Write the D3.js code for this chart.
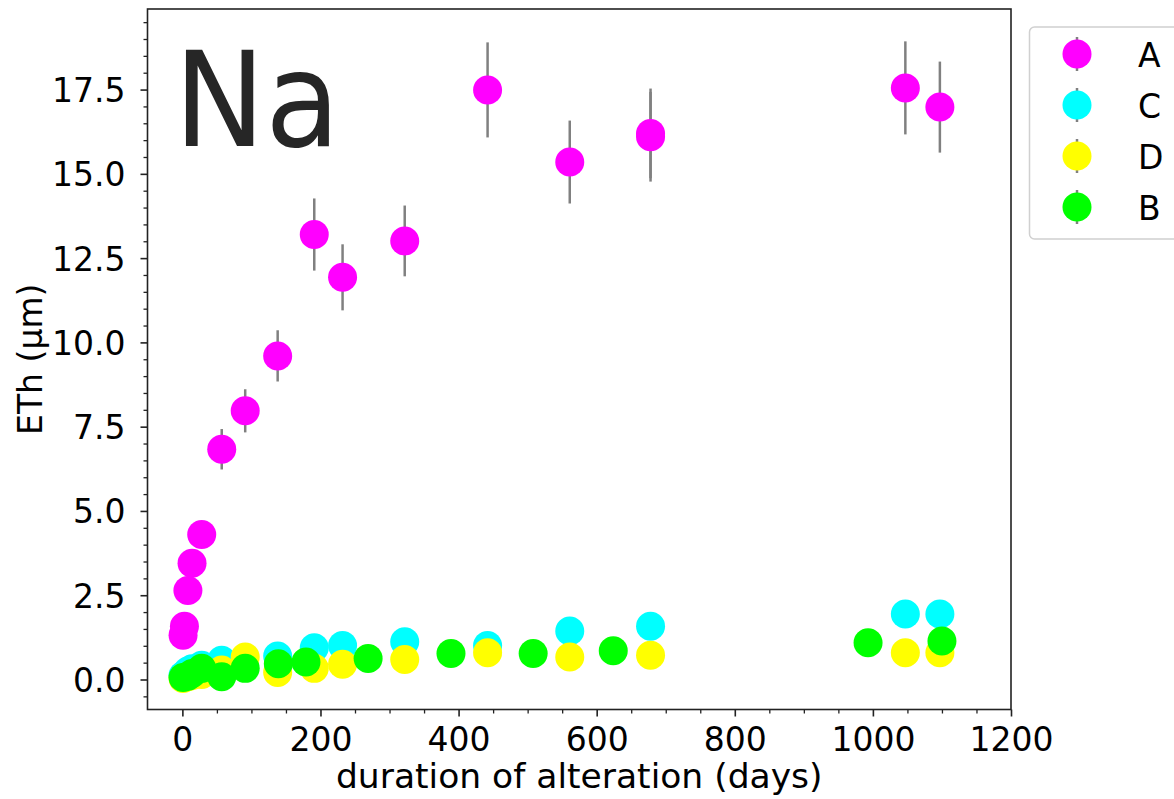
<!DOCTYPE html>
<html>
<head>
<meta charset="utf-8">
<script src="https://cdn.jsdelivr.net/npm/d3@7"></script>
<style>
	body { margin: 0; background: #fff; }
	svg text { font-family: "DejaVu Sans", sans-serif; }
	.tick-label { font-size: 33px; fill: #000; }
</style>
</head>
<body>
<div id="chart"></div>
<script>

// ---- data ----
var daysA = [1, 3, 8, 14, 28, 57, 91, 138, 191, 232, 322, 442, 561, 678, 678, 1047, 1097];
var ethA  = [1.31, 1.58, 2.64, 3.45, 4.30, 6.83, 7.97, 9.60, 13.20, 11.93, 13.01, 17.49, 15.35, 16.10, 16.20, 17.55, 16.98];
var errA  = [0.1, 0.1, 0.15, 0.2, 0.25, 0.6, 0.64, 0.76, 1.07, 0.98, 1.05, 1.41, 1.23, 1.33, 1.33, 1.38, 1.35];

var daysC = [1, 8, 14, 28, 57, 138, 191, 232, 322, 442, 561, 678, 1047, 1097];
var ethC  = [0.12, 0.25, 0.32, 0.42, 0.57, 0.70, 0.94, 1.01, 1.12, 1.01, 1.44, 1.58, 1.94, 1.94];
var errC  = [0.05, 0.05, 0.05, 0.05, 0.05, 0.05, 0.05, 0.05, 0.05, 0.05, 0.05, 0.05, 0.05, 0.05];

var daysD = [1, 8, 14, 28, 57, 91, 138, 191, 232, 322, 442, 561, 678, 1047, 1097];
var ethD  = [0.03, 0.08, 0.12, 0.15, 0.28, 0.67, 0.21, 0.33, 0.45, 0.59, 0.79, 0.67, 0.72, 0.79, 0.79];
var errD  = [0.05, 0.05, 0.05, 0.05, 0.05, 0.05, 0.05, 0.05, 0.05, 0.05, 0.05, 0.05, 0.05, 0.05, 0.05];

var daysB = [1, 8, 14, 28, 57, 91, 139, 179, 269, 389, 508, 624, 993, 1100];
var ethB  = [0.06, 0.10, 0.18, 0.33, 0.08, 0.33, 0.47, 0.52, 0.62, 0.77, 0.77, 0.85, 1.09, 1.14];
var errB  = [0.05, 0.05, 0.05, 0.05, 0.05, 0.05, 0.05, 0.05, 0.05, 0.05, 0.05, 0.05, 0.05, 0.05];

var seriesNames  = ["A", "C", "D", "B"];
var seriesColors = ["#ff00ff", "#00ffff", "#ffff00", "#00ff00"];

var xTicks = [0, 200, 400, 600, 800, 1000, 1200];
var yTicks = [0, 2.5, 5, 7.5, 10, 12.5, 15, 17.5];

// series table built from the arrays above
var series = [
	{ name: "A", days: daysA, eth: ethA, err: errA },
	{ name: "C", days: daysC, eth: ethC, err: errC },
	{ name: "D", days: daysD, eth: ethD, err: errD },
	{ name: "B", days: daysB, eth: ethB, err: errB }
];

var W = 1174, H = 799;
var plot = { left: 147.5, right: 1011, top: 9, bottom: 709.5 };

var svg = d3.select("#chart").append("svg")
	.attr("width", W).attr("height", H);

var x = d3.scaleLinear().domain([-50.5, 1200]).range([plot.left, plot.right]);
var y = d3.scaleLinear().domain([-0.89, 19.89]).range([plot.bottom, plot.top]);

// minor ticks
var xMinor = d3.range(0, 1201, 50).filter(function(v) { return v % 200 != 0; });
var yMinor = d3.range(-0.5, 19.9, 0.5).filter(function(v) { return Math.abs(v % 2.5) > 0.01; });

svg.append("g")
	.attr("transform", "translate(0," + plot.bottom + ")")
	.call(d3.axisBottom(x).tickValues(xMinor).tickSize(4).tickFormat(""))
	.call(function(g) { g.select(".domain").remove(); g.selectAll("line").attr("stroke", "#222").attr("stroke-width", 1.3); });

svg.append("g")
	.attr("transform", "translate(" + plot.left + ",0)")
	.call(d3.axisLeft(y).tickValues(yMinor).tickSize(4).tickFormat(""))
	.call(function(g) { g.select(".domain").remove(); g.selectAll("line").attr("stroke", "#222").attr("stroke-width", 1.3); });

// major ticks
var gx = svg.append("g")
	.attr("transform", "translate(0," + plot.bottom + ")")
	.call(d3.axisBottom(x).tickValues(xTicks).tickSize(7).tickPadding(9).tickFormat(d3.format("d")));
gx.select(".domain").remove();
gx.selectAll("line").attr("stroke", "#222").attr("stroke-width", 1.6);
gx.selectAll("text").attr("class", "tick-label").attr("font-family", null).attr("font-size", null)
	.attr("y", null).attr("dy", null).attr("transform", "translate(0,41.5)");

var gy = svg.append("g")
	.attr("transform", "translate(" + plot.left + ",0)")
	.call(d3.axisLeft(y).tickValues(yTicks).tickSize(7).tickPadding(15).tickFormat(d3.format(".1f")));
gy.select(".domain").remove();
gy.selectAll("line").attr("stroke", "#222").attr("stroke-width", 1.6);
gy.selectAll("text").attr("class", "tick-label").attr("font-family", null).attr("font-size", null)
	.attr("dy", "0.36em");

// frame
svg.append("rect")
	.attr("x", plot.left).attr("y", plot.top)
	.attr("width", plot.right - plot.left).attr("height", plot.bottom - plot.top)
	.attr("fill", "none").attr("stroke", "#222").attr("stroke-width", 1.6);

// axis labels
svg.append("text")
	.attr("x", (plot.left + plot.right) / 2).attr("y", 788)
	.attr("text-anchor", "middle").attr("font-size", 34.5)
	.text("duration of alteration (days)");

svg.append("text")
	.attr("transform", "translate(42," + (plot.top + plot.bottom) / 2 + ") rotate(-90)")
	.attr("text-anchor", "middle").attr("font-size", 33)
	.text("ETh (µm)");

// big element label
svg.append("text")
	.attr("x", 174).attr("y", 146)
	.attr("font-family", "'Liberation Sans', Arial, sans-serif")
	.attr("font-size", 131).attr("fill", "#262626")
	.attr("textLength", 166).attr("lengthAdjust", "spacingAndGlyphs")
	.text("Na");

// points with error bars, drawn in legend order
var R = 14.5;
series.forEach(function(s, i) {
	var pts = s.days.map(function(d, j) { return { d: d, v: s.eth[j], e: s.err[j] }; });
	var g = svg.append("g");
	g.selectAll("line.err").data(pts).enter().append("line")
		.attr("class", "err")
		.attr("x1", function(p) { return x(p.d); }).attr("x2", function(p) { return x(p.d); })
		.attr("y1", function(p) { return y(p.v - p.e); }).attr("y2", function(p) { return y(p.v + p.e); })
		.attr("stroke", "#808080").attr("stroke-width", 2.5);
	g.selectAll("circle").data(pts).enter().append("circle")
		.attr("cx", function(p) { return x(p.d); })
		.attr("cy", function(p) { return y(p.v); })
		.attr("r", R)
		.attr("fill", seriesColors[i]);
});

// legend
var leg = svg.append("g");
leg.append("rect")
	.attr("x", 1029.5).attr("y", 27).attr("width", 200).attr("height", 212)
	.attr("rx", 5).attr("fill", "#fff").attr("stroke", "#d0d0d0").attr("stroke-width", 1.5);
seriesNames.forEach(function(n, i) {
	var cy = 54 + i * 51;
	leg.append("line").attr("x1", 1077).attr("x2", 1077).attr("y1", cy - 17).attr("y2", cy + 17)
		.attr("stroke", "#808080").attr("stroke-width", 2.5);
	leg.append("circle").attr("cx", 1077).attr("cy", cy).attr("r", R).attr("fill", seriesColors[i]);
	leg.append("text").attr("x", 1138).attr("y", cy + 12.5).attr("font-size", 33).text(n);
});

</script>
</body>
</html>
